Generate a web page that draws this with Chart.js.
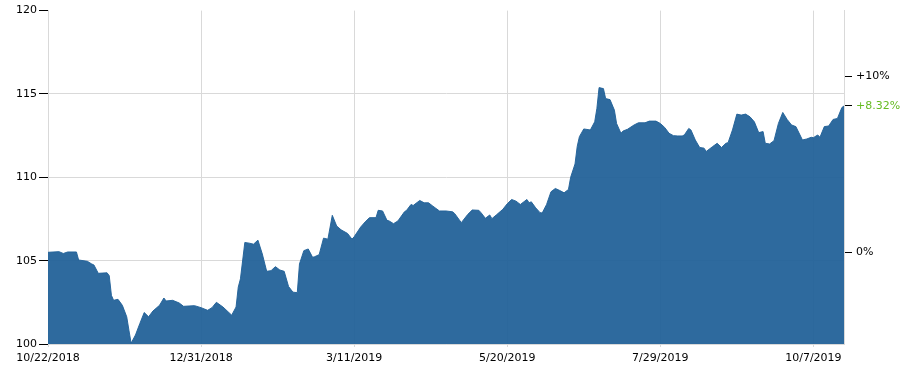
<!DOCTYPE html>
<html>
<head>
<meta charset="utf-8">
<script src="https://cdn.jsdelivr.net/npm/chart.js@4/dist/chart.umd.min.js"></script>
<style>
	html, body { margin: 0; padding: 0; background: #fff; }
</style>
</head>
<body>
<canvas id="myChart" width="922" height="370"></canvas>
<script>
	//DATA (DAYS SINCE 10/22/2018 AND PRICE)
	const startDate = Date.UTC(2018, 9, 22);
	const days = [0, 5, 7, 9, 13, 14, 18, 20, 21, 23, 27, 28, 29, 30, 32, 34, 36, 37, 38, 40,
		42, 44, 46, 48, 51, 53, 54, 57, 60, 62, 67, 70, 73, 75, 77, 80, 84, 86, 87, 88,
		90, 92, 94, 96, 98, 100, 102, 104, 106, 108, 110, 112, 114, 115, 117, 119, 121, 122, 124, 126,
		128, 130, 132, 134, 137, 139, 140, 143, 145, 147, 150, 151, 153, 155, 156, 158, 160, 163, 164, 166,
		167, 170, 172, 174, 176, 179, 182, 185, 186, 189, 192, 194, 197, 198, 200, 202, 203, 205, 208, 210,
		212, 214, 216, 219, 220, 221, 223, 225, 226, 228, 230, 232, 234, 236, 238, 239, 241, 242, 243, 245,
		248, 250, 251, 252, 254, 255, 257, 259, 260, 262, 263, 265, 268, 270, 273, 275, 278, 280, 282, 284,
		286, 288, 290, 291, 293, 294, 296, 298, 300, 301, 304, 306, 308, 310, 311, 313, 315, 317, 319, 321,
		323, 325, 327, 328, 330, 332, 334, 336, 338, 340, 342, 345, 347, 349, 350, 352, 353, 355, 357, 359,
		361, 363, 364];
	const prices = [105.50, 105.54, 105.43, 105.52, 105.52, 105.04, 104.96, 104.80, 104.74, 104.24, 104.27, 104.10, 102.92, 102.62, 102.68, 102.32, 101.63, 100.83, 100.05, 100.54,
		101.23, 101.89, 101.63, 101.98, 102.32, 102.76, 102.58, 102.62, 102.46, 102.26, 102.30, 102.18, 102.02, 102.18, 102.50, 102.22, 101.73, 102.22, 103.41, 103.91,
		106.09, 106.05, 105.99, 106.23, 105.40, 104.36, 104.40, 104.64, 104.44, 104.36, 103.45, 103.11, 103.08, 104.80, 105.60, 105.70, 105.20, 105.24, 105.36, 106.35,
		106.29, 107.72, 107.08, 106.85, 106.63, 106.29, 106.43, 107.02, 107.32, 107.58, 107.58, 108.02, 107.98, 107.42, 107.38, 107.22, 107.38, 107.93, 108.02, 108.37,
		108.31, 108.61, 108.47, 108.47, 108.27, 107.98, 107.98, 107.93, 107.82, 107.28, 107.78, 108.04, 108.02, 107.88, 107.54, 107.74, 107.52, 107.74, 108.08, 108.41,
		108.67, 108.57, 108.37, 108.67, 108.47, 108.53, 108.17, 107.88, 107.86, 108.37, 109.13, 109.33, 109.21, 109.07, 109.27, 110.00, 110.80, 111.85, 112.44, 112.90,
		112.84, 113.33, 114.13, 115.38, 115.32, 114.72, 114.66, 114.03, 113.23, 112.64, 112.78, 112.88, 113.14, 113.27, 113.27, 113.37, 113.37, 113.23, 112.99, 112.64,
		112.50, 112.48, 112.48, 112.54, 112.93, 112.84, 112.24, 111.79, 111.75, 111.55, 111.85, 112.04, 111.79, 112.04, 112.08, 112.84, 113.79, 113.73, 113.79, 113.63,
		113.33, 112.68, 112.74, 112.04, 112.00, 112.20, 113.23, 113.89, 113.47, 113.14, 113.04, 112.24, 112.30, 112.40, 112.38, 112.54, 112.40, 113.04, 113.08, 113.47,
		113.53, 114.18, 114.28];

	//TICKS
	const dateTicks = [0, 70, 140, 210, 280, 350];
	const priceTicks = [100, 105, 110, 115, 120];
	const pctTicks = [0, 8.32, 10];
	const pctLabels = ['0%', '+8.32%', '+10%'];

	class PriceChart {
		constructor() {
			this.Main();
		}

		Main() {
			Chart.defaults.font.family = "'DejaVu Sans', Verdana, sans-serif";
			Chart.defaults.font.size = 11;
			Chart.defaults.color = '#000';
			this.InitializeChart();
		}

		FormatDate(d) {
			const dt = new Date(startDate + d * 86400000);
			return (dt.getUTCMonth() + 1) + '/' + dt.getUTCDate() + '/' + dt.getUTCFullYear();
		}

		InitializeChart() {
			const base = prices[0];
			const pctValues = pctTicks.map(p => base * (1 + p / 100));
			const points = days.map((d, i) => ({ x: d, y: prices[i] }));
			const self = this;

			const config = {
				type: 'line',
				data: {
					datasets: [{
						data: points,
						backgroundColor: 'rgba(35, 98, 153, 0.95)',
						borderColor: 'rgba(35, 98, 153, 0.95)',
						borderWidth: 1,
						pointRadius: 0,
						tension: 0,
						fill: 'start'
					}]
				},
				options: {
					responsive: false,
					animation: false,
					layout: { padding: { top: 8, left: 0, right: 0, bottom: 0 } },
					plugins: { legend: { display: false }, tooltip: { enabled: false } },
					scales: {
						x: {
							type: 'linear',
							min: 0,
							max: days[days.length - 1],
							afterBuildTicks: s => { s.ticks = dateTicks.map(v => ({ value: v })); },
							afterFit: s => { s.height = 26; },
							border: { color: '#d9d9d9' },
							grid: { color: '#d9d9d9', tickColor: '#d9d9d9', tickLength: 3 },
							ticks: {
								maxRotation: 0,
								autoSkip: false,
								padding: 5,
								callback: v => self.FormatDate(v)
							}
						},
						y: {
							min: 100,
							max: 120,
							afterBuildTicks: s => { s.ticks = priceTicks.map(v => ({ value: v })); },
							afterFit: s => { s.width = 48; },
							border: { color: '#d9d9d9' },
							grid: {
								color: c => (c.tick && c.tick.value === 120) ? 'rgba(0,0,0,0)' : '#d9d9d9',
								tickColor: '#000',
								tickLength: 9
							},
							ticks: { padding: 2 }
						},
						y2: {
							position: 'right',
							min: 100,
							max: 120,
							afterBuildTicks: s => { s.ticks = pctValues.map(v => ({ value: v })); },
							afterFit: s => { s.width = 78; },
							border: { color: '#d9d9d9' },
							grid: { drawOnChartArea: false, tickColor: '#000', tickLength: 8 },
							ticks: {
								padding: 4,
								callback: (v, i) => pctLabels[i],
								color: c => c.index === 1 ? '#66bb22' : '#000'
							}
						}
					}
				}
			};

			const myChart = new Chart(document.getElementById('myChart'), config);
		}
	}

	var startPriceChart = new PriceChart();
</script>
</body>
</html>
